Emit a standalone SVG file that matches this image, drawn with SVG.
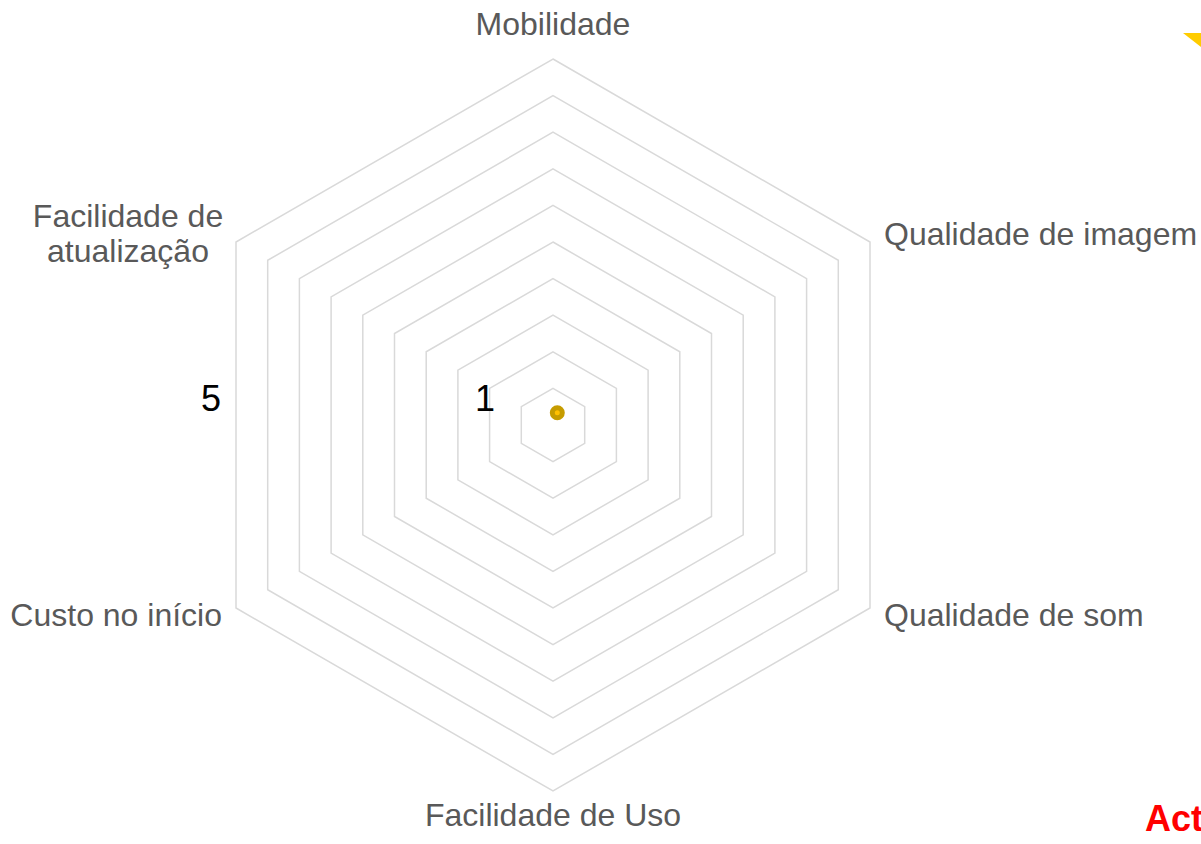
<svg xmlns="http://www.w3.org/2000/svg" width="1201" height="844" viewBox="0 0 1201 844">
<style>
.grid{fill:none;stroke:#D9D9D9;stroke-width:1.5;stroke-linejoin:miter}
.lbl{font-family:"Liberation Sans",Arial,sans-serif;font-size:32px;fill:#595959}
.tick{font-family:"Liberation Sans",Arial,sans-serif;font-size:36px;fill:#000000}
</style>
<rect width="1201" height="844" fill="#FFFFFF"/>
<g id="grid">
<polygon class="grid" points="553,388.4 584.7,406.7 584.7,443.3 553,461.6 521.3,443.3 521.3,406.7"/>
<polygon class="grid" points="553,351.8 616.4,388.4 616.4,461.6 553,498.2 489.6,461.6 489.6,388.4"/>
<polygon class="grid" points="553,315.2 648.1,370.1 648.1,479.9 553,534.8 457.9,479.9 457.9,370.1"/>
<polygon class="grid" points="553,278.6 679.8,351.8 679.8,498.2 553,571.4 426.2,498.2 426.2,351.8"/>
<polygon class="grid" points="553,242 711.5,333.5 711.5,516.5 553,608 394.5,516.5 394.5,333.5"/>
<polygon class="grid" points="553,205.4 743.2,315.2 743.2,534.8 553,644.6 362.8,534.8 362.8,315.2"/>
<polygon class="grid" points="553,168.8 774.9,296.9 774.9,553.1 553,681.2 331.1,553.1 331.1,296.9"/>
<polygon class="grid" points="553,132.2 806.6,278.6 806.6,571.4 553,717.8 299.4,571.4 299.4,278.6"/>
<polygon class="grid" points="553,95.6 838.3,260.3 838.3,589.7 553,754.4 267.7,589.7 267.7,260.3"/>
<polygon class="grid" points="553,59 870,242 870,608 553,791 236,608 236,242"/>
</g>
<g id="axis-labels">
<text class="lbl" x="553" y="35" text-anchor="middle">Mobilidade</text>
<text class="lbl" x="884" y="245">Qualidade de imagem</text>
<text class="lbl" x="884" y="626">Qualidade de som</text>
<text class="lbl" x="553" y="826" text-anchor="middle">Facilidade de Uso</text>
<text class="lbl" x="222" y="626" text-anchor="end">Custo no início</text>
<text class="lbl" x="128" y="227" text-anchor="middle">Facilidade de</text>
<text class="lbl" x="128" y="262" text-anchor="middle">atualização</text>
</g>
<g id="ticks">
<text class="tick" x="221" y="411" text-anchor="end">5</text>
<text class="tick" x="495" y="411" text-anchor="end">1</text>
</g>
<g id="data-point">
<circle cx="557.3" cy="412.8" r="5" fill="#FFC000" stroke="#C69C00" stroke-width="5"/>
</g>
<polygon id="corner-mark" points="1183,33 1201,33 1201,47" fill="#FFCC00"/>
<text id="act" x="1145" y="831" font-family="Liberation Sans,Arial,sans-serif" font-size="36" font-weight="bold" fill="#FF0000">Act</text>
</svg>
